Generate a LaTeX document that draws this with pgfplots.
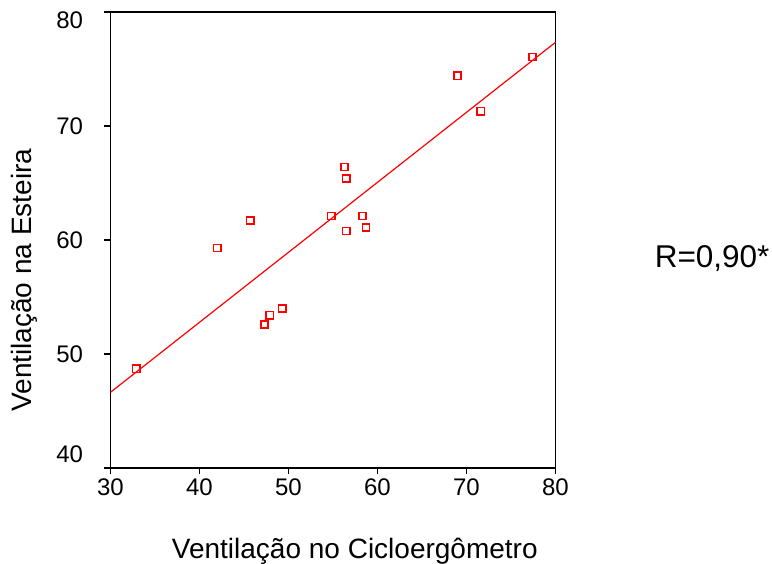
\documentclass[border=0pt]{standalone}
\usepackage{pgfplots}
\pgfplotsset{compat=1.18}
\usepackage{fontspec}
\setmainfont{Liberation Sans}
\definecolor{pred}{RGB}{255,0,0}
\begin{document}
\begin{tikzpicture}
\path[use as bounding box] (-110.5pt,-96pt) rectangle (661.5pt,468pt);
\begin{axis}[
  at={(0pt,0pt)}, anchor=south west,
  scale only axis, width=445pt, height=456pt,
  xmin=30, xmax=80, ymin=40, ymax=80,
  xtick={30,40,50,60,70,80},
  ytick={40,50,60,70,80},
  yticklabels={{\smash{\raisebox{5pt}{40}}},50,60,70,{\smash{\raisebox{-17pt}{80}}}},
  tick align=outside,
  major tick length=6pt,
  xtick pos=bottom, ytick pos=left,
  axis line style={line width=1.4pt},
  every tick/.style={black, line width=1.2pt},
  tick label style={font=\fontsize{24}{26}\selectfont},
  yticklabel style={xshift=-18pt},
  xticklabel style={yshift=-1pt},
  /pgf/number format/assume math mode=true,
  xlabel={Ventilação no Cicloergômetro},
  ylabel={Ventilação na Esteira},
  label style={font=\fontsize{28}{30}\selectfont},
  xlabel style={at={(axis description cs:0.549,-0.182)}, anchor=center},
  ylabel style={at={(axis description cs:-0.193,0.412)}, anchor=center, rotate=0},
  clip=false,
]
\addplot[only marks, mark=square, mark size=3.6pt, color=pred, mark options={draw=pred, fill=white, line width=1.5pt}] coordinates {
  (32.9,48.7) (42.0,59.3) (45.7,61.7) (47.3,52.6) (47.9,53.4) (49.3,54.0)
  (54.8,62.1) (56.3,66.4) (56.5,65.4) (56.5,60.8) (58.3,62.1) (58.7,61.1)
  (69.0,74.4) (71.6,71.3) (77.4,76.05)
};
\addplot[color=pred, line width=1.2pt, no marks] coordinates {(30,46.64) (80,77.34)};
\node[font=\fontsize{31.5}{34}\selectfont, anchor=center] at (axis description cs:1.352,0.46) {R=0,90*};
\end{axis}
\end{tikzpicture}
\end{document}
